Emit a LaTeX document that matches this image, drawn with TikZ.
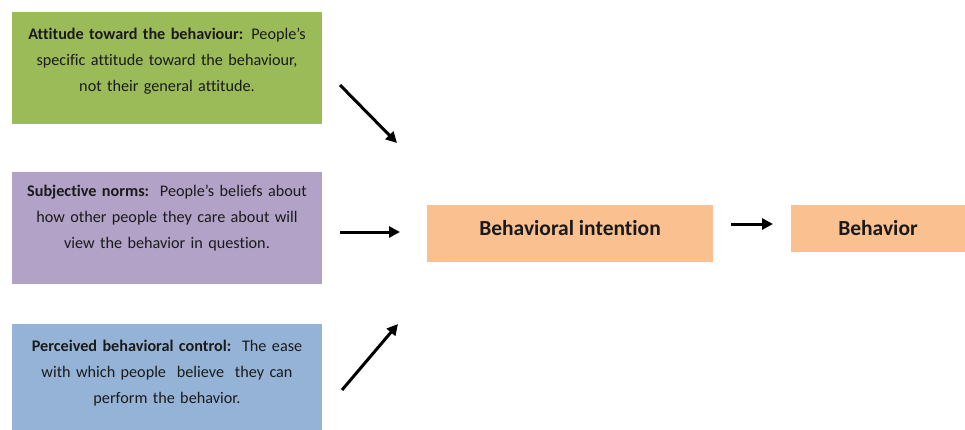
\documentclass[tikz,border=0pt]{standalone}
\usepackage{fontspec}
\setmainfont{Carlito}[Ligatures=CommonOff]
\usetikzlibrary{arrows.meta}
\definecolor{cgreen}{HTML}{9BBB59}
\definecolor{cpurple}{HTML}{B2A2C7}
\definecolor{cblue}{HTML}{95B3D7}
\definecolor{corange}{HTML}{FAC08F}
\definecolor{ctext}{HTML}{1A1A1A}
\tikzset{
  factortext/.style={anchor=north, align=center, text width=310pt, font=\fontsize{16.2}{26}\selectfont, text=ctext, inner sep=0pt},
  outtext/.style={font=\fontsize{21.5}{24}\selectfont\bfseries, text=ctext},
  arr/.style={line width=3pt, -{Triangle[length=11pt,width=11pt]}},
}
\begin{document}
\begin{tikzpicture}[x=1pt,y=-1pt]
\clip (0,0) rectangle (965,429);
\fill[white] (0,0) rectangle (965,429);
% factor boxes
\fill[cgreen] (12,12) rectangle (322,124);
\fill[cpurple] (12,172) rectangle (322,284);
\fill[cblue] (12,324) rectangle (322,440);
\node[factortext] (att) at (167,28) {\textbf{Attitude toward the behaviour:} People's\\specific attitude toward the behaviour,\\not their general attitude.};
\node[factortext] (sn) at (167,185) {\textbf{Subjective norms:}\ \ People's beliefs about\\how other people they care about will\\view the behavior in question.};
\node[factortext] (pbc) at (167,340) {\textbf{Perceived behavioral control:}\ \ The ease\\with which people\ \ believe\ \ they can\\perform the behavior.};
% outcome boxes
\fill[corange] (427,205) rectangle (713,262);
\fill[corange] (791,205) rectangle (965,252);
\node[outtext] (bi) at (570,228) {Behavioral intention};
\node[outtext] (b) at (878,228) {Behavior};
% arrows
\coordinate (a1s) at (340,85);
\coordinate (a1e) at (397,143);
\coordinate (a2s) at (340,232);
\coordinate (a2e) at (400,232);
\coordinate (a3s) at (342,390);
\coordinate (a3e) at (398,324);
\coordinate (a4s) at (731,224);
\coordinate (a4e) at (773,224);
\draw[arr] (a1s) -- (a1e);
\draw[arr] (a2s) -- (a2e);
\draw[arr] (a3s) -- (a3e);
\draw[arr] (a4s) -- (a4e);
\end{tikzpicture}
\end{document}
